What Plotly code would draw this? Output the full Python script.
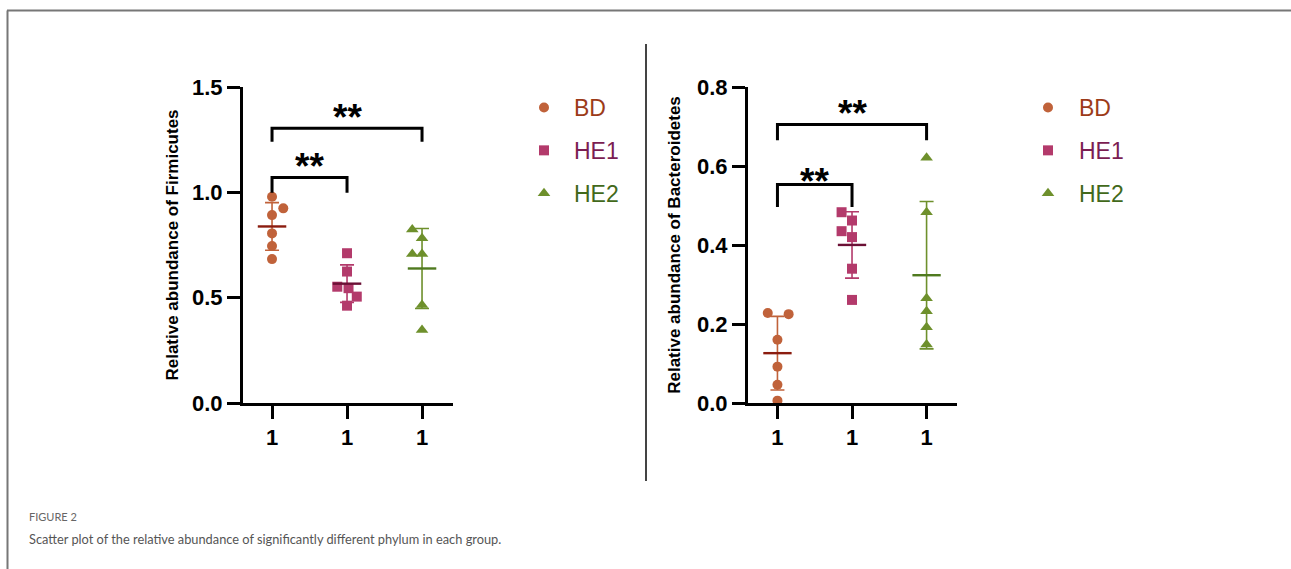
import numpy as np
import plotly.graph_objects as go

# ---- data -------------------------------------------------------------
groups = ["BD", "HE1", "HE2"]
x_tick_labels = ["1", "1", "1"]

firmicutes_BD = [0.979, 0.924, 0.892, 0.805, 0.745, 0.683]
firmicutes_HE1 = [0.711, 0.624, 0.552, 0.545, 0.505, 0.462]
firmicutes_HE2 = [0.824, 0.782, 0.707, 0.707, 0.465, 0.346]

bacteroidetes_BD = [0.228, 0.225, 0.160, 0.092, 0.046, 0.006]
bacteroidetes_HE1 = [0.483, 0.462, 0.435, 0.420, 0.340, 0.261]
bacteroidetes_HE2 = [0.621, 0.483, 0.265, 0.232, 0.192, 0.148]

significance = ["**", "**"]

# ---- styling ----------------------------------------------------------
marker_colors = {"BD": "#c0623a", "HE1": "#b33a6b", "HE2": "#6e902c"}
mean_colors = {"BD": "#8b1c0f", "HE1": "#6b1035", "HE2": "#4f7a1f"}
label_colors = {"BD": "#9c3b19", "HE1": "#7b1d52", "HE2": "#42691b"}
symbols = {"BD": "circle", "HE1": "square", "HE2": "triangle-up"}
marker_sizes = {"BD": 10, "HE1": 10, "HE2": 11}

# horizontal spread of overlapping points (scatter-dot style)
spread = {
    "left": {"BD": [0, 0.15, 0, 0, 0, 0],
             "HE1": [0, 0, -0.13, 0.02, 0.13, 0],
             "HE2": [-0.13, 0, -0.13, 0, 0, 0]},
    "right": {"BD": [-0.13, 0.15, 0, 0, 0, 0],
              "HE1": [-0.14, 0, -0.14, 0, 0, 0],
              "HE2": [0, 0, 0, 0, 0, 0]},
}

# bracket definitions: (from group, to group, bar level, foot level, star level)
brackets = {
    "left": [(1, 3, 1.304, 1.24, 1.395), (1, 2, 1.071, 0.998, 1.16)],
    "right": [(1, 3, 0.705, 0.665, 0.754), (1, 2, 0.553, 0.496, 0.581)],
}

panels = {
    "left": {"data": {"BD": firmicutes_BD, "HE1": firmicutes_HE1, "HE2": firmicutes_HE2},
             "xa": "x", "ya": "y", "legend": "legend"},
    "right": {"data": {"BD": bacteroidetes_BD, "HE1": bacteroidetes_HE1, "HE2": bacteroidetes_HE2},
              "xa": "x2", "ya": "y2", "legend": "legend2"},
}

W, H = 1291, 569
FONT = "Arial, Liberation Sans, sans-serif"

fig = go.Figure()

for pname, p in panels.items():
    for i, g in enumerate(groups):
        vals = np.array(p["data"][g])
        xpos = i + 1 + np.array(spread[pname][g])
        fig.add_trace(go.Scatter(
            x=xpos, y=vals, mode="markers", xaxis=p["xa"], yaxis=p["ya"],
            marker=dict(symbol=symbols[g], size=marker_sizes[g], color=marker_colors[g], line=dict(width=0)),
            name=f"<span style='color:{label_colors[g]}'>{g}</span>",
            legend=p["legend"], legendgroup=f"{pname}{g}", showlegend=True,
        ))
        m = vals.mean()
        sd = vals.std(ddof=1)
        # mean ± SD error bar
        fig.add_trace(go.Scatter(
            x=[i + 1], y=[m], mode="markers", xaxis=p["xa"], yaxis=p["ya"],
            marker=dict(size=1, color="rgba(0,0,0,0)"),
            error_y=dict(type="data", array=[sd], color=marker_colors[g], thickness=1.6, width=7),
            showlegend=False, hoverinfo="skip",
        ))
        # mean line
        fig.add_trace(go.Scatter(
            x=[i + 1 - 0.19, i + 1 + 0.19], y=[m, m], mode="lines", xaxis=p["xa"], yaxis=p["ya"],
            line=dict(color=mean_colors[g], width=2.4),
            showlegend=False, hoverinfo="skip",
        ))
    # significance brackets
    for (a, b, top, foot, star_y), star in zip(brackets[pname], significance):
        fig.add_trace(go.Scatter(
            x=[a, a, b, b], y=[foot, top, top, foot], mode="lines",
            xaxis=p["xa"], yaxis=p["ya"], line=dict(color="black", width=3),
            showlegend=False, hoverinfo="skip",
        ))
        fig.add_annotation(x=(a + b) / 2, y=star_y, xref=p["xa"], yref=p["ya"], text=star, yshift=-8,
                           showarrow=False, font=dict(family=FONT, size=37, color="black", weight="bold"),
                           xanchor="center", yanchor="middle")

axis_common = dict(showgrid=False, zeroline=False, showline=True, linecolor="black", linewidth=3,
                   ticks="outside", tickcolor="black", tickwidth=3, ticklen=13, automargin=False,
                   tickfont=dict(family=FONT, size=22, color="black", weight="bold"))
title_font = dict(family=FONT, size=17, color="black", weight="bold")

ydom = [1 - 403 / H, 1 - 87 / H]
fig.update_layout(
    width=W, height=H, margin=dict(l=0, r=0, t=0, b=0, autoexpand=False),
    paper_bgcolor="white", plot_bgcolor="white", showlegend=True,
    xaxis=dict(domain=[243 / W, 453 / W], range=[0.613, 3.413], tickvals=[1, 2, 3], ticktext=x_tick_labels,
               anchor="y", **axis_common),
    yaxis=dict(domain=ydom, range=[0, 1.5], tickvals=[0, 0.5, 1.0, 1.5], tickformat=".1f", anchor="x",
               title=dict(text="Relative abundance of Firmicutes", standoff=10, font=title_font), **axis_common),
    xaxis2=dict(domain=[748 / W, 957 / W], range=[0.605, 3.408], tickvals=[1, 2, 3], ticktext=x_tick_labels,
                anchor="y2", **axis_common),
    yaxis2=dict(domain=ydom, range=[0, 0.8], tickvals=[0, 0.2, 0.4, 0.6, 0.8], tickformat=".1f", anchor="x2",
                title=dict(text="Relative abundance of Bacteroidetes", standoff=13, font=title_font), **axis_common),
    legend=dict(x=514 / W, y=1 - 86 / H, xanchor="left", yanchor="top", itemwidth=50,
                font=dict(family=FONT, size=23), tracegroupgap=10, bgcolor="rgba(0,0,0,0)"),
    legend2=dict(x=1017 / W, y=1 - 86 / H, xanchor="left", yanchor="top", itemwidth=52,
                 font=dict(family=FONT, size=23), tracegroupgap=10, bgcolor="rgba(0,0,0,0)"),
)

# figure frame and panel divider
fig.add_shape(type="line", xref="paper", yref="paper", x0=7 / W, x1=1, y0=1 - 10.5 / H, y1=1 - 10.5 / H,
              line=dict(color="#777777", width=2))
fig.add_shape(type="line", xref="paper", yref="paper", x0=7.5 / W, x1=7.5 / W, y0=1 - 10.5 / H, y1=0,
              line=dict(color="#777777", width=2))
fig.add_shape(type="line", xref="paper", yref="paper", x0=646 / W, x1=646 / W, y0=1 - 44 / H, y1=1 - 481 / H,
              line=dict(color="#444444", width=2))

# caption
CAP_FONT = "Lato, Open Sans, sans-serif"
fig.add_annotation(x=27 / W, y=1 - 516 / H, xref="paper", yref="paper", text="FIGURE 2", showarrow=False,
                   xanchor="left", yanchor="middle", font=dict(family=CAP_FONT, size=11, color="#666666"))
fig.add_annotation(x=27 / W, y=1 - 539 / H, xref="paper", yref="paper",
                   text="Scatter plot of the relative abundance of significantly different phylum in each group.",
                   showarrow=False, xanchor="left", yanchor="middle",
                   font=dict(family=CAP_FONT, size=12.8, color="#555555"))

fig.write_html("out.html")
